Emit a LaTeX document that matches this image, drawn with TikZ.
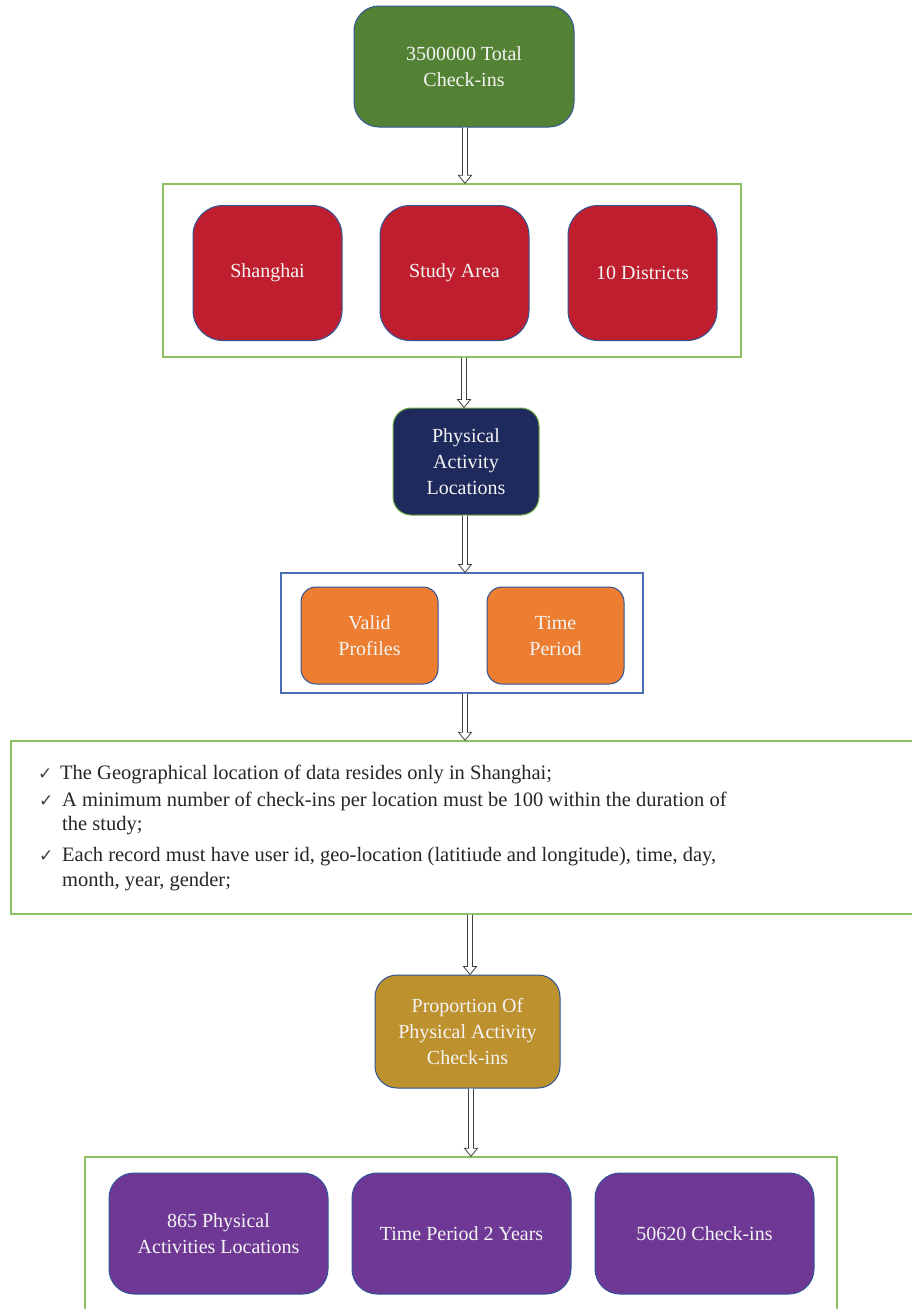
\documentclass[tikz,border=0pt]{standalone}
\usepackage{fontspec}
\setmainfont{Liberation Serif}
\newfontfamily\symfont{DejaVu Sans}
\usetikzlibrary{calc}
\definecolor{cgreen}{HTML}{548235}
\definecolor{cred}{HTML}{BE1E2D}
\definecolor{cnavy}{HTML}{1F2A5C}
\definecolor{corange}{HTML}{ED7D31}
\definecolor{cgold}{HTML}{BE912F}
\definecolor{cpurple}{HTML}{6E3894}
\definecolor{cbord}{HTML}{2F5597}
\definecolor{clgreen}{HTML}{8DC063}
\definecolor{cbluec}{HTML}{4A6DB3}
\definecolor{cnavyb}{HTML}{70AD47}
\definecolor{ctext}{HTML}{F4F4F4}
\definecolor{carrow}{HTML}{404040}
\tikzset{
  box/.style={draw=cbord, line width=1pt, text=ctext, align=center,
    font=\fontsize{20}{26}\selectfont, inner sep=0pt},
  contg/.style={draw=clgreen, line width=1.4pt, inner sep=0pt},
  contb/.style={draw=cbluec, line width=1.2pt, inner sep=0pt},
  arrowline/.style={draw=carrow, fill=white, line width=0.8pt, line join=miter},
  crittext/.style={anchor=base west, inner sep=0pt, text=black!85, font=\fontsize{20.5}{25}\selectfont},
  checkm/.style={anchor=base west, inner sep=0pt, text=black!75, font=\symfont\fontsize{17}{18}\selectfont}
}
\newcommand\harrow[3]{%
  \coordinate (hx) at (#1,0);
  \coordinate (hs) at (hx |- #2);
  \coordinate (he) at (hx |- #3);
  \draw[arrowline] ($(hs)+(-2.5,0)$) -- ($(he)+(-2.5,-8)$) -- ($(he)+(-6.5,-8)$) -- (he)
    -- ($(he)+(6.5,-8)$) -- ($(he)+(2.5,-8)$) -- ($(hs)+(2.5,0)$);
}
\begin{document}
\begin{tikzpicture}[x=1pt,y=-1pt]
\useasboundingbox (0,0) rectangle (912,1309);
\clip (0,0) rectangle (912,1309);
\fill[white] (0,0) rectangle (912,1309);
% top
\node[box, fill=cgreen, rounded corners=25pt, minimum width=220pt, minimum height=121pt] (top) at (464,66.5) {3500000 Total\\Check-ins};
% container 1
\node[contg, minimum width=578pt, minimum height=173pt] (c1) at (452,270.5) {};
\node[box, fill=cred, rounded corners=30pt, minimum width=149pt, minimum height=135pt] (r1) at (267.5,273) {Shanghai};
\node[box, fill=cred, rounded corners=30pt, minimum width=149pt, minimum height=135pt] (r2) at (454.5,273) {Study Area};
\node[box, fill=cred, rounded corners=30pt, minimum width=149pt, minimum height=135pt] (r3) at (642.5,273) {10 Districts};
% navy
\node[box, draw=cnavyb, fill=cnavy, rounded corners=18pt, minimum width=146pt, minimum height=107pt] (pal) at (466,461.5) {Physical\\Activity\\Locations};
% container 2
\node[contb, minimum width=362pt, minimum height=120pt] (c2) at (462,633) {};
\node[box, fill=corange, rounded corners=15pt, minimum width=137pt, minimum height=97pt] (o1) at (369.5,635.5) {Valid\\Profiles};
\node[box, fill=corange, rounded corners=15pt, minimum width=137pt, minimum height=97pt] (o2) at (555.5,635.5) {Time\\Period};
% criteria
\node[contg, minimum width=919pt, minimum height=173pt] (crit) at (470.5,827.5) {};
\node[checkm] (k1) at (38,779) {✓};
\node[crittext] (t1) at (60,779) {The Geographical location of data resides only in Shanghai;};
\node[checkm] (k2) at (39,806) {✓};
\node[crittext] (t2a) at (62,806) {A minimum number of check-ins per location must be 100 within the duration of};
\node[crittext] (t2b) at (62,830) {the study;};
\node[checkm] (k3) at (39,861) {✓};
\node[crittext] (t3a) at (62,861) {Each record must have user id, geo-location (latitiude and longitude), time, day,};
\node[crittext] (t3b) at (62,886) {month, year, gender;};
% gold
\node[box, fill=cgold, rounded corners=22pt, minimum width=185pt, minimum height=113pt] (gold) at (467.5,1031.5) {Proportion Of\\Physical Activity\\Check-ins};
% container 3
\node[contg, minimum width=752pt, minimum height=173pt] (c3) at (461,1243.5) {};
\node[box, fill=cpurple, rounded corners=25pt, minimum width=219pt, minimum height=121pt] (p1) at (218.5,1233.5) {865 Physical\\Activities Locations};
\node[box, fill=cpurple, rounded corners=25pt, minimum width=219pt, minimum height=121pt] (p2) at (461.5,1233.5) {Time Period 2 Years};
\node[box, fill=cpurple, rounded corners=25pt, minimum width=219pt, minimum height=121pt] (p3) at (704.5,1233.5) {50620 Check-ins};
% arrows
\harrow{465}{top.south}{c1.north}
\harrow{464}{c1.south}{pal.north}
\harrow{465}{pal.south}{c2.north}
\harrow{465}{c2.south}{crit.north}
\harrow{470}{crit.south}{gold.north}
\harrow{471}{gold.south}{c3.north}
\end{tikzpicture}
\end{document}
